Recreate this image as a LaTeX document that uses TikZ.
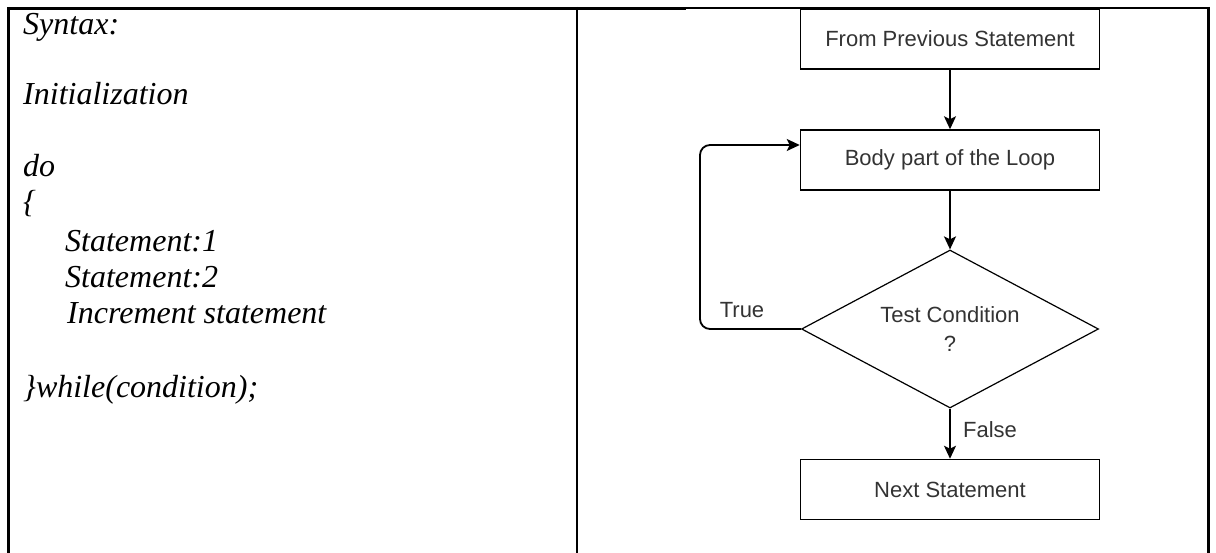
\documentclass[tikz,border=0pt]{standalone}
\usepackage{fontspec}
\setmainfont{Liberation Serif}
\setsansfont{Liberation Sans}
\usepackage{tikz}
\usetikzlibrary{shapes,shapes.geometric,calc,arrows.meta,positioning}
\usepackage{xcolor}
\definecolor{mgrey}{HTML}{333333}
\tikzstyle{code}=[anchor=base west, inner sep=0pt, font=\itshape\fontsize{32}{36}\selectfont]
\tikzstyle{box}=[rectangle, draw=black, minimum width=299pt, minimum height=60pt, line width=1.5pt, inner sep=0pt, text=mgrey, font=\sffamily\fontsize{22}{26}\selectfont]
\tikzstyle{cond}=[diamond, draw=black, minimum width=297pt, minimum height=158pt, aspect=1.88, line width=1.2pt, inner sep=0pt, align=center, text=mgrey, font=\sffamily\fontsize{22}{29}\selectfont]
\tikzstyle{lab}=[text=mgrey, inner sep=0pt, font=\sffamily\fontsize{22}{26}\selectfont]
\tikzstyle{l1}=[line width=1.8pt, -{Stealth[length=13pt,width=12pt,inset=3pt]}]
\tikzstyle{rule}=[line width=3pt]

\begin{document}
\begin{tikzpicture}[x=1pt,y=-1pt]
    \useasboundingbox (0,0) rectangle (1216,553);

    % table lines
    \draw[rule] (7,8.5) -- (686,8.5);
    \draw[line width=2pt] (686,8) -- (1210,8);
    \draw[rule] (8.5,7) -- (8.5,553);
    \draw[line width=2.5pt] (577,7) -- (577,553);
    \draw[rule] (1208.5,7) -- (1208.5,553);

    % syntax column
    \node[code] (syn) at (23,35) {Syntax:};
    \node[code] (init) at (23,105) {Initialization};
    \node[code] (do) at (23,177) {do};
    \node[code] (open) at (23,213) {\{};
    \node[code] (st1) at (65,252) {Statement:1};
    \node[code] (st2) at (65,288) {Statement:2};
    \node[code] (inc) at (67,324) {Increment statement};
    \node[code] (close) at (23,397) {\}while(condition);};

    % flow chart
    \node[box] (prev) at (950,39) {From Previous Statement};
    \node[box] (body) at (950,160) {Body part of the Loop};
    \node[cond] (test) at (950,329) {Test Condition\\?};
    \node[box] (next) at (950,489.5) {Next Statement};
    \coordinate (loop) at (700,145);

    \draw[l1] (prev) -- (body);
    \draw[l1] (body) -- (test);
    \draw[l1] (test) -- (next);
    \draw[l1] (test.west) [rounded corners=10pt] -| (loop) [sharp corners] -- (body.west |- loop);

    \node[lab] (true) at (742,310) {True};
    \node[lab] (false) at (990,430) {False};
\end{tikzpicture}
\end{document}
